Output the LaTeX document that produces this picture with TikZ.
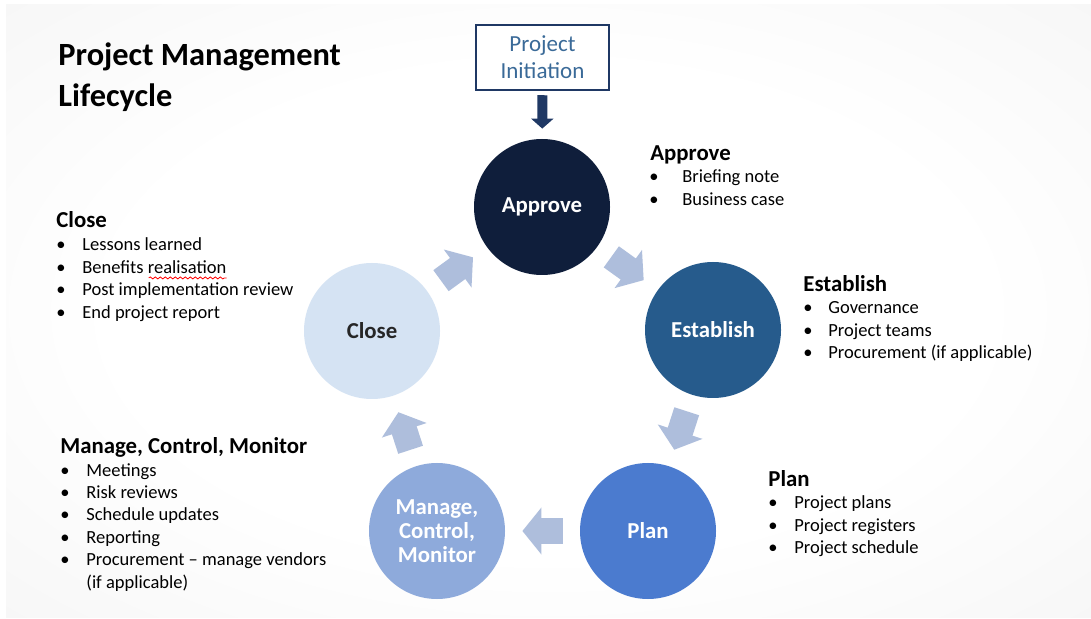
\documentclass[tikz,border=0pt]{standalone}
\usepackage{fontspec}
\setmainfont{Carlito}
\usepackage{tikz}
\usetikzlibrary{arrows.meta}
\usetikzlibrary{decorations.pathmorphing}

\definecolor{approvecol}{HTML}{0F1E3B}
\definecolor{establishcol}{HTML}{265B8C}
\definecolor{plancol}{HTML}{4B7BCF}
\definecolor{managecol}{HTML}{8EAADB}
\definecolor{closecol}{HTML}{D5E3F3}
\definecolor{flowcol}{HTML}{AEBEDC}
\definecolor{navy}{HTML}{1F3864}
\definecolor{steel}{HTML}{3A6A98}

% soft grey slide background, white in the middle
\pgfdeclareradialshading{slidebg}{\pgfpoint{0bp}{0bp}}{%
  color(0bp)=(white); color(20bp)=(white); color(50bp)=(black!6); color(71bp)=(black!14)}

\tikzset{
    phase/.style={shape=circle, minimum size=68pt, inner sep=0pt, align=center,
        text=white, font=\fontsize{11.4}{12}\selectfont\bfseries},
    flow/.style={draw=flowcol, line width=13pt, -{Triangle[width=23pt, length=9.5pt]},
        shorten <=8.5pt, shorten >=8.5pt},
    initbox/.style={draw=navy, fill=white, line width=1.25pt, minimum width=66.5pt,
        minimum height=32.5pt, align=center, text=steel, font=\fontsize{11.5}{13.5}\selectfont},
    initarrow/.style={draw=navy, line width=5pt, -{Triangle[width=11pt, length=5pt]},
        shorten <=2pt, shorten >=5pt},
    title/.style={anchor=base west, inner sep=0pt, font=\fontsize{16.2}{20}\selectfont\bfseries},
    heading/.style={anchor=base west, inner sep=0pt, font=\fontsize{11.4}{13}\selectfont\bfseries},
    item/.style={anchor=base west, inner sep=0pt, font=\fontsize{9.25}{11}\selectfont},
    dot/.style={item, xshift=-1.5pt}
}

% bullet list: name, bullet x, text x, first baseline y, items
\newcommand{\itemlist}[5]{%
    \foreach \t [count=\i from 0] in {#5} {
        \node[dot] (#1-b\i) at (#2, #4+22.4*\i) {\textbullet};
        \node[item] (#1-\i) at (#3, #4+22.4*\i) {\t};
    }}

\begin{document}
\begin{tikzpicture}[x=0.5pt, y=-0.5pt]

    \useasboundingbox (0,0) rectangle (1091,619);
    \shade[shading=slidebg] (6,5) rectangle (1091,617);

    \node[title] (title1) at (58,66) {Project Management};
    \node[title] (title2) at (58,107) {Lifecycle};

    % the five phases
    \node[phase, fill=approvecol] (approve) at (542,207) {Approve};
    \node[phase, fill=establishcol] (establish) at (713,330) {Establish};
    \node[phase, fill=plancol] (plan) at (648,531) {Plan};
    \node[phase, fill=managecol] (manage) at (437,531) {Manage,\\Control,\\Monitor};
    \node[phase, fill=closecol, text=black!85] (close) at (372,331) {Close};

    \draw[flow] (approve) -- (establish);
    \draw[flow] (establish) -- (plan);
    \draw[flow] (plan) -- (manage);
    \draw[flow] (manage) -- (close);
    \draw[flow] (close) -- (approve);

    \node[initbox] (init) at (542.5,57.5) {Project\\Initiation};
    \draw[initarrow] (init) -- (approve);

    % phase notes
    \node[heading] (approve-head) at (650,161) {Approve};
    \itemlist{approve}{652}{682}{183}{Briefing note, Business case}

    \node[heading] (establish-head) at (803,292) {Establish};
    \itemlist{establish}{806}{828}{314}{Governance, Project teams, Procurement (if applicable)}

    \node[heading] (plan-head) at (768,487) {Plan};
    \itemlist{plan}{771}{794}{509}{Project plans, Project registers, Project schedule}

    \node[heading] (close-head) at (56,228) {Close};
    \itemlist{close}{59}{82}{251}{Lessons learned, Benefits realisation,
        Post implementation review, End project report}
    \draw[red, line width=0.4pt, decorate,
        decoration={snake, amplitude=0.5pt, segment length=2.5pt}]
        ([xshift=-39pt, yshift=-2pt]close-1.south east) -- ([yshift=-2pt]close-1.south east);

    \node[heading] (manage-head) at (60,453) {Manage, Control, Monitor};
    \itemlist{manage}{63}{86}{476}{Meetings, Risk reviews, Schedule updates, Reporting,
        Procurement -- manage vendors}
    \node[item] (manage-wrap) at (86,588) {(if applicable)};

\end{tikzpicture}
\end{document}
